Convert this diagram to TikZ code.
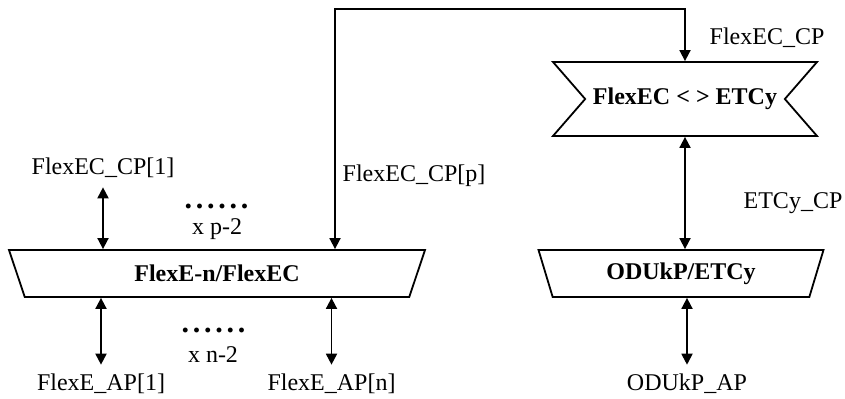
\documentclass[tikz,border=0pt]{standalone}
\usepackage{fontspec}
\setmainfont{Liberation Serif}
\usepackage{tikz}
\usetikzlibrary{arrows.meta,positioning,calc,shapes.geometric,shapes.symbols}
\newcommand{\sixdots}{.\kern1.9pt.\kern1.9pt.\kern1.9pt.\kern1.9pt.\kern1.9pt.}
\tikzset{
  lbl/.style={font=\fontsize{12}{14}\selectfont, inner sep=4.5pt},
  dotrow/.style={font=\fontsize{15}{17}\selectfont\bfseries, anchor=base, inner sep=0pt},
  count/.style={font=\fontsize{12}{14}\selectfont, anchor=base, inner sep=0pt},
  trapbox/.style={trapezium, trapezium stretches body, draw, line width=0.9pt, inner sep=0pt,
    font=\fontsize{12}{14}\selectfont\bfseries, minimum height=23.5pt},
  ribbonbox/.style={signal, signal from=west and east, signal to=nowhere, signal pointer angle=98,
    draw, line width=0.9pt, inner sep=0pt, font=\fontsize{12}{14}\selectfont\bfseries,
    minimum width=132pt, minimum height=37pt},
  biarrow/.style={{Triangle[length=5.5pt,width=5.5pt]}-{Triangle[length=5.5pt,width=5.5pt]}, line width=0.9pt}
}

\begin{document}
\begin{tikzpicture}[x=0.5pt,y=-0.5pt]
  \useasboundingbox (0,0) rectangle (845,399);

  \node[trapbox, trapezium left angle=133, trapezium right angle=133, minimum width=208pt] (flexe) at (217,273.5) {FlexE-n/FlexEC};
  \node[trapbox, trapezium left angle=123, trapezium right angle=123, minimum width=142.5pt] (odukp) at (681,273.5) {ODUkP/ETCy};
  \node[ribbonbox] (conv) at (685,99) {FlexEC < > ETCy};

  \node[lbl] (cp1) at (103,168) {FlexEC\_CP[1]};
  \node[lbl] (cpp) at (414,176) {FlexEC\_CP[p]};
  \node[lbl] (cp) at (767,38) {FlexEC\_CP};
  \node[lbl] (etcycp) at (793,203) {ETCy\_CP};
  \node[lbl] (ap1) at (101,384) {FlexE\_AP[1]};
  \node[lbl] (apn) at (331.5,384) {FlexE\_AP[n]};
  \node[lbl] (odukpap) at (687,384) {ODUkP\_AP};

  \node[dotrow] (dotsp) at (216.5,208.5) {\sixdots};
  \node[count] (multp) at (217,234.5) {x p-2};
  \node[dotrow] (dotsn) at (213.5,332.5) {\sixdots};
  \node[count] (multn) at (213,363) {x n-2};

  \coordinate (ptop) at (335,9);
  \draw[biarrow] (cp1.south) -- (cp1.south |- flexe.north);
  \draw[biarrow] (ap1.north) -- (ap1.north |- flexe.south);
  \draw[biarrow] (apn.north) -- (apn.north |- flexe.south);
  \draw[biarrow] (ptop |- flexe.north) -- (ptop) -| (conv.north);
  \draw[biarrow] (conv.south) -- (conv.south |- odukp.north);
  \draw[biarrow] (odukpap.north) -- (odukpap.north |- odukp.south);
\end{tikzpicture}
\end{document}
